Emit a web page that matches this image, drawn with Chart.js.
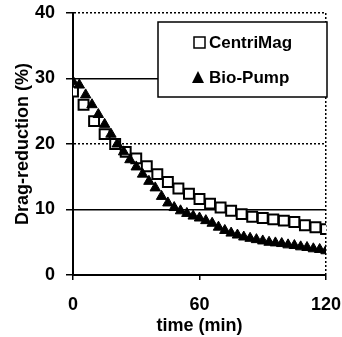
<!DOCTYPE html>
<html>
<head>
<meta charset="utf-8">
<script src="https://cdn.jsdelivr.net/npm/chart.js@4/dist/chart.umd.min.js"></script>
<style>
  body { margin: 0; background: #fff; }
</style>
</head>
<body>
<canvas id="dragChart" width="342" height="337"></canvas>
<script>
// time points (min)
const centriTime = [0, 5, 10, 15, 20, 25, 30, 35, 40, 45, 50, 55, 60, 65, 70, 75, 80, 85, 90, 95, 100, 105, 110, 115, 120];
const centriDrag = [28, 26, 23.5, 21.5, 20, 18.8, 17.8, 16.6, 15.4, 14.2, 13.2, 12.4, 11.6, 10.9, 10.3, 9.8, 9.3, 8.9, 8.7, 8.5, 8.3, 8.1, 7.6, 7.3, 7.0];

const bioTime = [0, 3, 6, 9, 12, 15, 18, 21, 24, 27, 30, 33, 36, 39, 42, 45, 48, 51, 54, 57, 60, 63, 66, 69, 72, 75, 78, 81, 84, 87, 90, 93, 96, 99, 102, 105, 108, 111, 114, 117, 120];
const bioDrag = [29.5, 29, 27.5, 26, 24.5, 23, 21.5, 20, 18.8, 17.6, 16.5, 15.4, 14.3, 13.3, 12, 11, 10.3, 9.8, 9.4, 9.0, 8.7, 8.3, 7.9, 7.3, 6.8, 6.4, 6.1, 5.8, 5.6, 5.4, 5.2, 5.0, 4.9, 4.8, 4.6, 4.5, 4.3, 4.2, 4.0, 3.9, 3.7];

const xTicks = [0, 60, 120];
const yTicks = [0, 10, 20, 30, 40];
const seriesNames = ['CentriMag', 'Bio-Pump'];

const FONT = 'Arial, "Liberation Sans", sans-serif';

// boxed legend in the top right of the plot
const boxLegend = {
  id: 'boxLegend',
  afterDatasetsDraw(chart) {
    const {ctx, chartArea} = chart;
    const left = chartArea.left + 85, top = chartArea.top + 9;
    const right = chartArea.right + 1, bottom = top + 75;
    ctx.save();
    ctx.fillStyle = '#fff';
    ctx.fillRect(left, top, right - left, bottom - top);
    ctx.strokeStyle = '#000';
    ctx.lineWidth = 1.5;
    ctx.strokeRect(left, top, right - left, bottom - top);

    ctx.font = 'bold 17px ' + FONT;
    ctx.textBaseline = 'middle';
    // square
    ctx.fillStyle = '#fff';
    ctx.fillRect(left + 36, top + 15, 11, 11);
    ctx.strokeRect(left + 36, top + 15, 11, 11);
    ctx.fillStyle = '#000';
    ctx.fillText(chart.data.datasets[0].label, left + 51, top + 21);
    // triangle
    ctx.beginPath();
    ctx.moveTo(left + 40, top + 49);
    ctx.lineTo(left + 46, top + 61);
    ctx.lineTo(left + 34, top + 61);
    ctx.closePath();
    ctx.fill();
    ctx.fillText(chart.data.datasets[1].label, left + 51, top + 56);
    ctx.restore();
  }
};

const ctx = document.getElementById('dragChart').getContext('2d');

var myChart = new Chart(ctx, {
  type: 'scatter',
  data: {
    datasets: [{
      label: seriesNames[0],
      data: centriTime.map((t, i) => ({x: t, y: centriDrag[i]})),
      pointStyle: 'rect',
      pointRadius: 7,
      pointBorderWidth: 2,
      backgroundColor: '#fff',
      borderColor: '#000',
      order: 1
    }, {
      label: seriesNames[1],
      data: bioTime.map((t, i) => ({x: t, y: bioDrag[i]})),
      pointStyle: 'triangle',
      pointRadius: 6,
      pointBorderWidth: 1,
      backgroundColor: '#000',
      borderColor: '#000',
      order: 0
    }]
  },
  options: {
    responsive: false,
    animation: false,
    layout: { padding: { top: 13, right: 16, left: 0, bottom: 0 } },
    plugins: {
      legend: { display: false },
      tooltip: { enabled: false }
    },
    scales: {
      x: {
        type: 'linear',
        min: 0,
        max: 120,
        afterFit: s => { s.height = 62; s.paddingLeft = 0; s.paddingRight = 0; },
        afterBuildTicks: s => { s.ticks = xTicks.map(v => ({value: v})); },
        ticks: { color: '#000', font: { family: FONT, size: 18, weight: 'bold' }, padding: 14, maxRotation: 0 },
        grid: {
          color: c => c.tick && c.tick.value === 120 ? '#000' : 'transparent',
          lineWidth: 1.5,
          tickColor: '#000',
          tickLength: 5,
          tickWidth: 1.5
        },
        border: { color: '#000', width: 2, dash: [2, 2] },
        title: { display: true, text: 'time (min)', color: '#000', font: { family: FONT, size: 18, weight: 'bold' }, padding: { top: 7, bottom: 0 } }
      },
      y: {
        min: 0,
        max: 40,
        afterFit: s => { s.width = 73; s.paddingTop = 0; s.paddingBottom = 0; },
        afterBuildTicks: s => { s.ticks = yTicks.map(v => ({value: v})); },
        ticks: { color: '#000', font: { family: FONT, size: 18, weight: 'bold' }, padding: 11 },
        grid: {
          color: '#000',
          lineWidth: 1.5,
          tickColor: '#000',
          tickLength: 7,
          tickWidth: 1.5,
          tickBorderDash: []
        },
        border: {
          color: '#000',
          width: 2,
          dash: c => (c.tick && (c.tick.value === 10 || c.tick.value === 30)) ? [] : [2, 2]
        },
        title: { display: true, text: 'Drag-reduction (%)', color: '#000', font: { family: FONT, size: 18, weight: 'bold' }, padding: { top: 12, bottom: 0 } }
      }
    }
  },
  plugins: [boxLegend]
});
</script>
</body>
</html>
